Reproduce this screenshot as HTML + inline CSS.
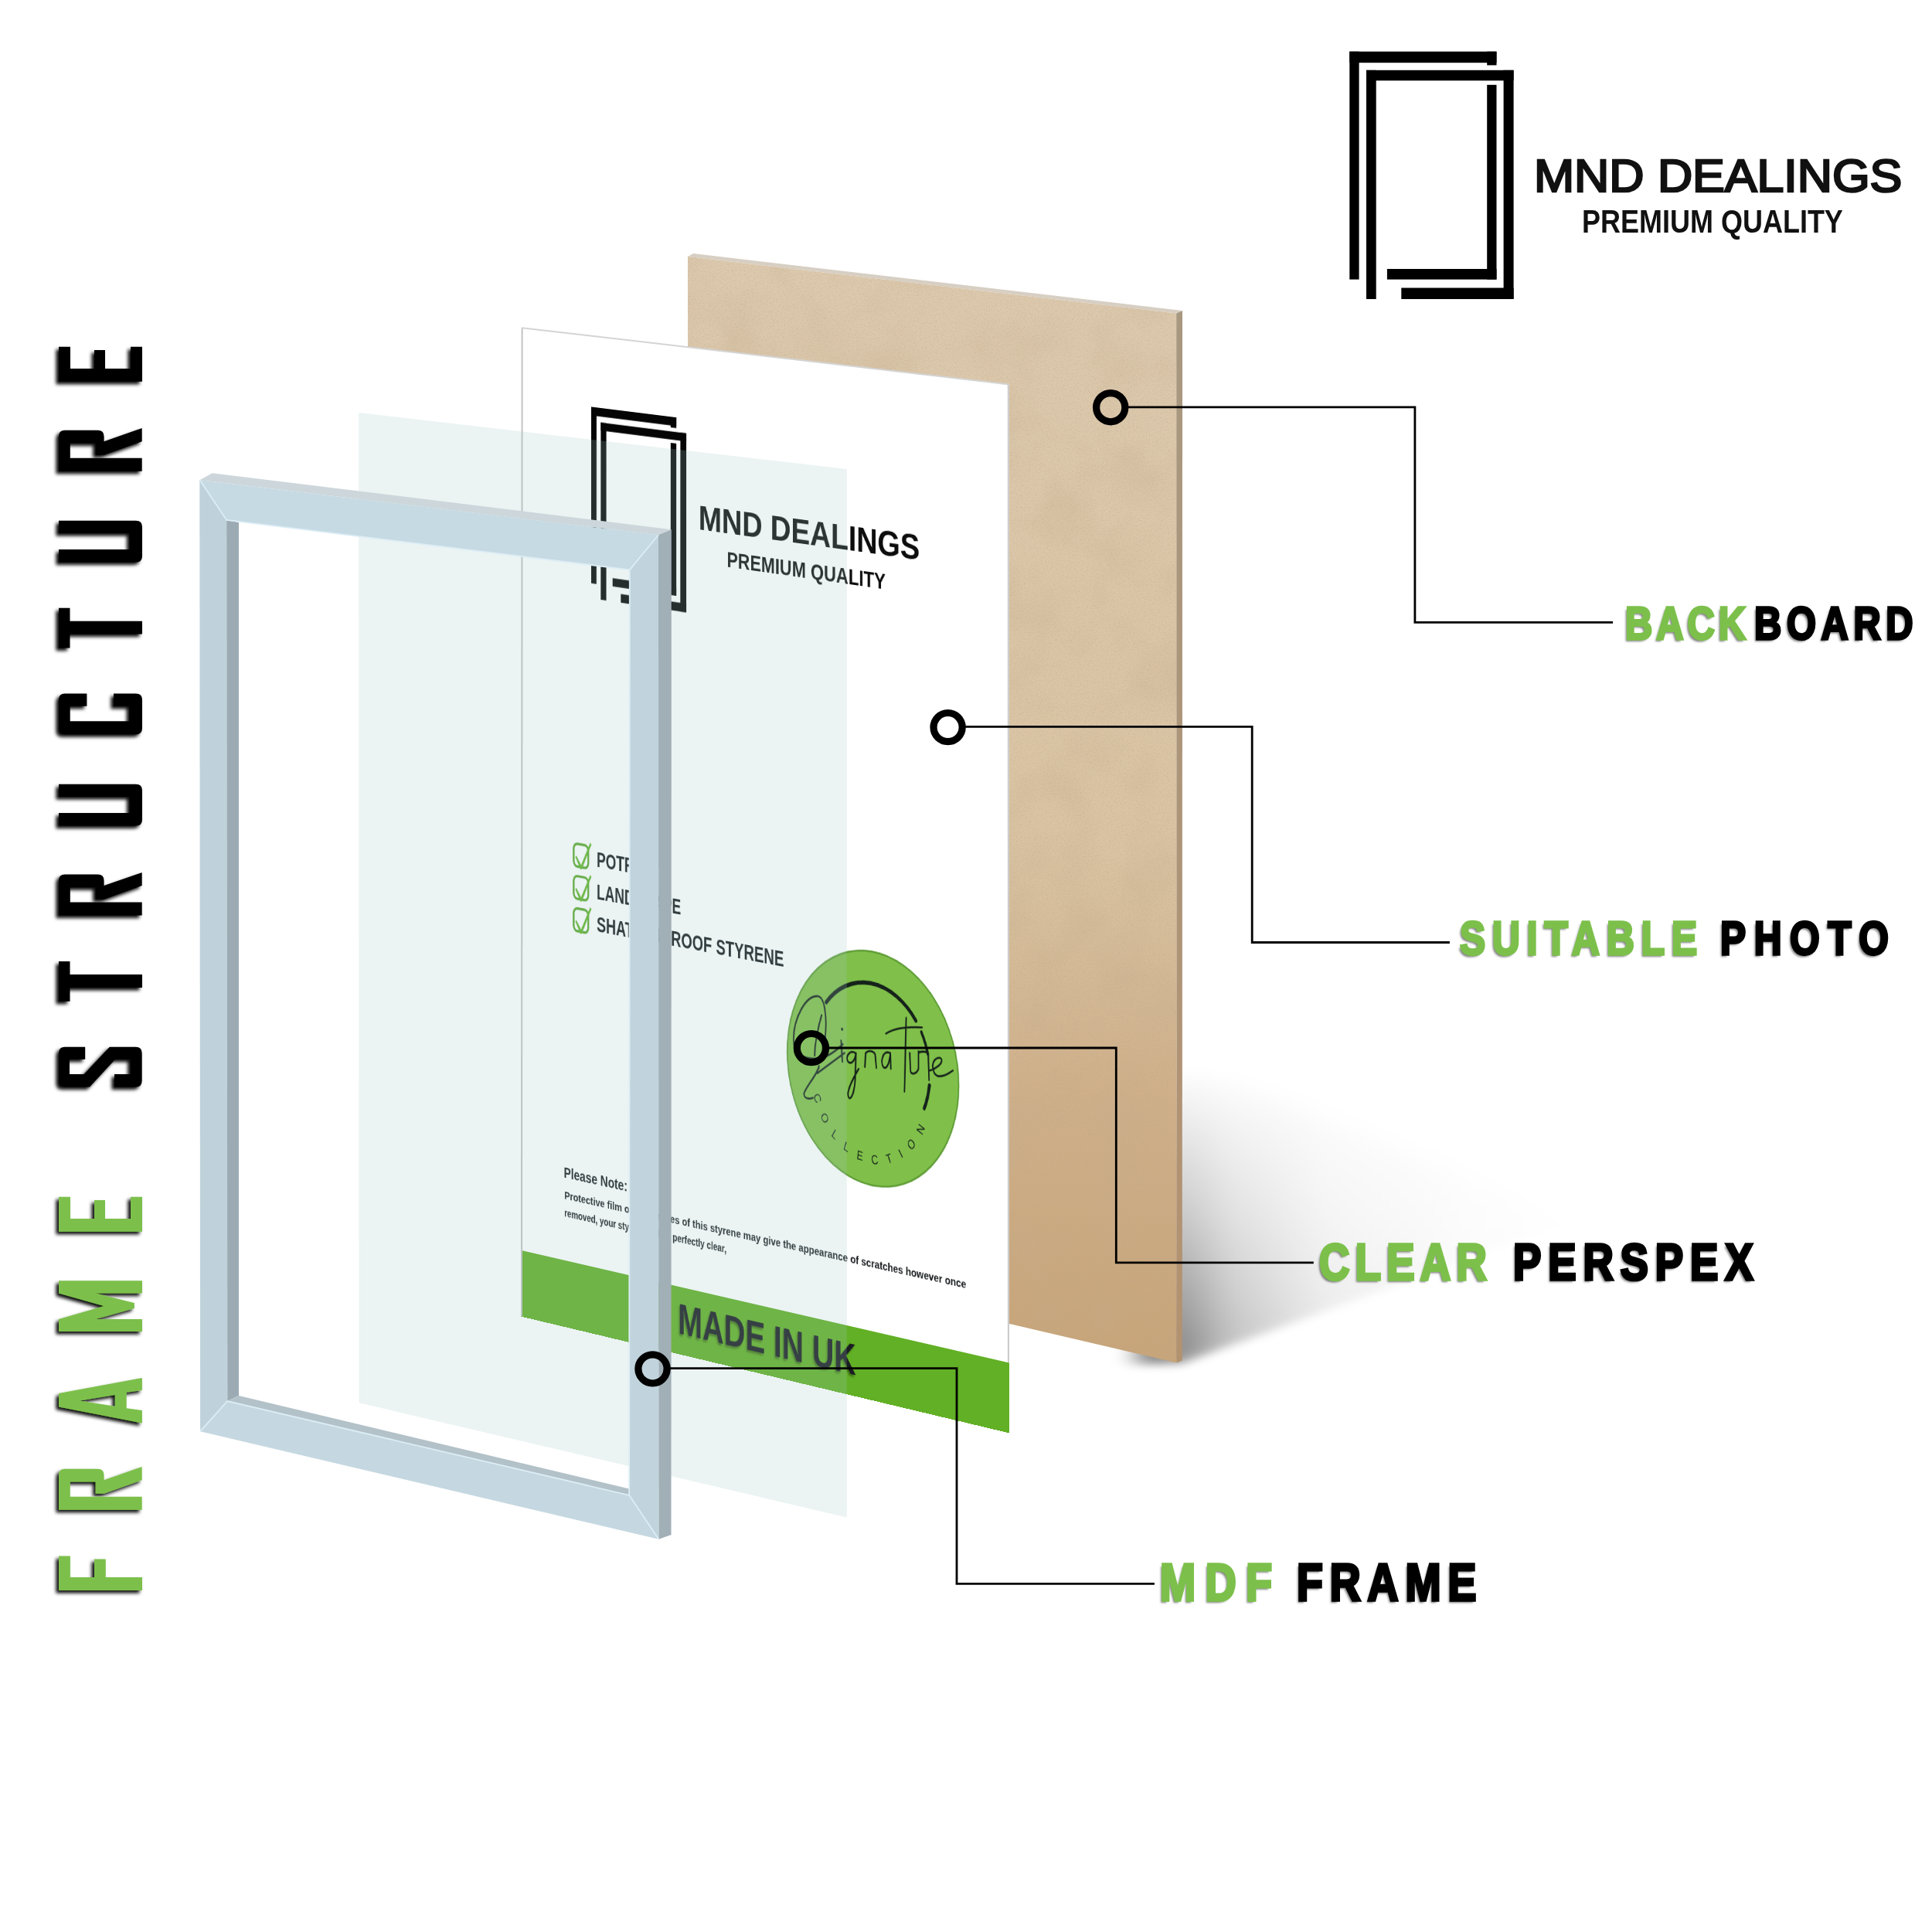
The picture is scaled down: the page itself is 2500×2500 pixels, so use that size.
<!DOCTYPE html>
<html><head><meta charset="utf-8">
<style>
html,body{margin:0;padding:0;background:#fff;width:2500px;height:2500px;overflow:hidden;position:relative}
.abs{position:absolute;left:0;top:0}
.lbl{position:absolute;font-family:"Liberation Sans",sans-serif;font-weight:bold;white-space:nowrap;line-height:1;transform-origin:0 0;text-shadow:-3px 3px 3px rgba(0,0,0,.5)}
.lab{font-size:62px;letter-spacing:11px;transform:scaleX(0.82);-webkit-text-stroke:1.2px currentColor}
.g{color:#7cc04b}
#photo{position:absolute;left:0;top:0;width:900px;height:1360px;transform-origin:0 0;transform:matrix3d(0.617895764,0.0498523311,0,-6.33165774e-05,-0.000986632531,0.939504478,0,-8.08801988e-07,0,0,1,0,675,424,0,1);background:#fff;font-family:"Liberation Sans",sans-serif;overflow:hidden}
#photo .t{position:absolute;white-space:nowrap;line-height:1;color:#101010}
</style></head><body>
<svg class="abs" width="2500" height="2500" viewBox="0 0 2500 2500">
<defs>
<filter id="blur40" x="-50%" y="-50%" width="200%" height="200%"><feGaussianBlur stdDeviation="35"/></filter><filter id="blur8" x="-50%" y="-50%" width="200%" height="200%"><feGaussianBlur stdDeviation="6"/></filter><filter id="blur15" x="-50%" y="-50%" width="200%" height="200%"><feGaussianBlur stdDeviation="15"/></filter><filter id="blur25" x="-50%" y="-50%" width="200%" height="200%"><feGaussianBlur stdDeviation="28"/></filter>
<filter id="tex1" x="0" y="0" width="100%" height="100%"><feTurbulence type="fractalNoise" baseFrequency="0.012" numOctaves="3" seed="7"/><feColorMatrix type="matrix" values="0 0 0 0 0.55  0 0 0 0 0.42  0 0 0 0 0.27  0 0 0 -2.2 1.25"/><feComposite in2="SourceGraphic" operator="in"/></filter>
<filter id="tex2" x="0" y="0" width="100%" height="100%"><feTurbulence type="fractalNoise" baseFrequency="0.6" numOctaves="2" seed="3"/><feColorMatrix type="matrix" values="0 0 0 0 0.5  0 0 0 0 0.38  0 0 0 0 0.25  0 0 0 -3 1.45"/><feComposite in2="SourceGraphic" operator="in"/></filter>
<linearGradient id="side" x1="0" y1="0" x2="0" y2="1"><stop offset="0" stop-color="#a89880"/><stop offset="1" stop-color="#b39270"/></linearGradient>
<linearGradient id="mdf" x1="0" y1="0" x2="0" y2="1">
<stop offset="0" stop-color="#dcc9ae"/><stop offset="0.54" stop-color="#d9c3a2"/><stop offset="0.75" stop-color="#cfb08a"/><stop offset="1" stop-color="#c7a479"/></linearGradient>
<linearGradient id="shg" x1="0" y1="0" x2="1" y2="0">
<stop offset="0" stop-color="#555" stop-opacity="0.9"/><stop offset="1" stop-color="#888" stop-opacity="0"/></linearGradient>
</defs>
<!-- backboard shadow -->
<linearGradient id="shx" gradientUnits="userSpaceOnUse" x1="1530" y1="0" x2="2060" y2="0">
<stop offset="0" stop-color="#000" stop-opacity="0.48"/><stop offset="0.12" stop-color="#000" stop-opacity="0.26"/><stop offset="0.35" stop-color="#000" stop-opacity="0.09"/><stop offset="0.7" stop-color="#000" stop-opacity="0.025"/><stop offset="1" stop-color="#000" stop-opacity="0"/></linearGradient>
<linearGradient id="shy" gradientUnits="userSpaceOnUse" x1="0" y1="1380" x2="0" y2="1765">
<stop offset="0" stop-color="#fff" stop-opacity="0"/><stop offset="0.5" stop-color="#fff" stop-opacity="0.45"/><stop offset="1" stop-color="#fff" stop-opacity="1"/></linearGradient>
<mask id="shm" maskUnits="userSpaceOnUse" x="1400" y="1200" width="900" height="700"><polygon points="1400,1200 2300,1200 2300,1480 1530,1766 1400,1766" fill="url(#shy)" filter="url(#blur8)"/></mask>
<g mask="url(#shm)"><polygon points="1470,1340 2080,1600 1470,1790" fill="url(#shx)" filter="url(#blur15)"/></g>
<!-- backboard -->
<polygon points="897,328 1530,402 1522.2,405.6 890,332" fill="#d7cfc3"/>
<polygon points="890,332 1522.2,405.6 1522.6,1763.6 890,1615.6" fill="url(#mdf)"/>
<polygon points="890,332 1522.2,405.6 1522.6,1763.6 890,1615.6" fill="#fff" filter="url(#tex1)" opacity="0.3"/>
<polygon points="890,332 1522.2,405.6 1522.6,1763.6 890,1615.6" fill="#fff" filter="url(#tex2)" opacity="0.45"/>
<polygon points="1522.2,405.6 1530,402 1529.8,1760.5 1522.6,1763.6" fill="url(#side)"/>
</svg>

<div id="photo"><svg style="position:absolute;left:135.3px;top:96.7px;overflow:visible" width="230" height="300"><g transform="scale(0.853 0.816)" fill="#050505"><rect x="0.0" y="0.0" width="190.2" height="14.5"/><rect x="0.0" y="0.0" width="12.3" height="294.9"/><rect x="177.9" y="0.0" width="12.3" height="17.7"/><rect x="177.9" y="43.1" width="12.3" height="251.8"/><rect x="48.6" y="281.3" width="141.6" height="13.6"/><rect x="21.7" y="24.1" width="190.6" height="13.5"/><rect x="21.7" y="24.1" width="12.7" height="296.2"/><rect x="199.3" y="24.1" width="13.0" height="296.2"/><rect x="67.0" y="305.8" width="145.3" height="14.5"/></g></svg>
<div class="t" style="left:339.3px;top:205.1px;font-size:46.4px;font-weight:bold;color:#0d0d0d;transform:scaleX(1.128);transform-origin:0 0;">MND DEALINGS</div>
<div class="t" style="left:391.9px;top:263.5px;font-size:29.6px;font-weight:bold;color:#0d0d0d;transform:scaleX(1.044);transform-origin:0 0;">PREMIUM QUALITY</div>
<svg style="position:absolute;left:0;top:0;overflow:visible" width="900" height="1360">
    <g fill="none" stroke="#5aa82c" stroke-width="3.4">
      <rect x="101.8" y="696.5" width="28" height="31" rx="7"/>
      <rect x="101.8" y="740.6" width="28" height="31" rx="7"/>
      <rect x="101.8" y="784.8" width="28" height="31" rx="7"/>
    </g>
    <g fill="#62b62a">
      <path d="M107 713 L116 724.5 L133.5 692 L136 694 L117.5 730 L114.5 730.5 L105 715Z"/>
      <path d="M107 757 L116 768.5 L133.5 736 L136 738 L117.5 774 L114.5 774.5 L105 759Z"/>
      <path d="M107 801 L116 812.5 L133.5 780 L136 782 L117.5 818 L114.5 818.5 L105 803Z"/>
    </g>
    <circle cx="658" cy="923" r="154" fill="#80c04a" stroke="#5e9c35" stroke-width="2.5"/>
    <g fill="none" stroke="#15221a" stroke-linecap="round" stroke-linejoin="round">
      <path d="M575 847.5 A106 106 0 0 1 736.2 848.9" stroke-width="5.5"/><path d="M745.9 862.4 A106 106 0 0 1 757.4 889.6" stroke-width="4.5"/>
      <path d="M760.2 929.9 A106 106 0 0 1 751.1 961.8" stroke-width="5"/>
      <path d="M 573.2 893.8 C 576.4 867.7 573.2 840.2 558.8 841.6 C 537.9 843.9 515.4 876.4 515.4 905.6 C 515.4 923.2 529.9 928.1 554.0 925.2 C 573.2 923.0 589.2 912.5 605.2 898.6 M 566.8 865.6 C 560.4 881.7 554.0 905.9 554.0 921.1 M 558.8 943.7 L 608.3 909.7 M 562.0 933.9 C 558.8 946.1 538.0 964.3 534.7 974.2 C 533.9 981.3 544.4 980.9 550.8 977.6 M 602.0 894.4 L 604.4 921.9 M 627.4 907.0 C 617.9 903.7 608.3 915.5 614.7 920.4 C 621.1 924.2 627.4 916.3 629.0 906.7 L 627.4 941.8 C 625.8 965.3 616.3 973.7 614.7 964.6 C 613.1 955.6 627.4 936.0 633.8 927.0 M 644.9 923.0 L 646.5 904.2 C 652.8 898.7 663.9 899.4 663.9 906.3 L 665.5 921.2 M 689.1 898.0 C 678.1 895.0 671.8 912.1 678.1 918.2 C 682.8 920.9 689.1 914.2 690.7 897.8 L 691.5 918.5 M 719.0 847.5 L 715.9 945.0 M 682.8 873.5 C 697.0 864.5 720.6 858.8 747.2 856.2 M 725.3 892.8 L 726.8 916.8 C 728.4 921.2 737.8 918.7 740.9 911.3 L 740.9 888.2 M 740.9 890.5 C 744.1 887.8 753.5 886.4 758.1 888.1 L 759.7 923.5 M 759.7 910.9 C 772.2 906.7 784.6 898.0 781.5 892.7 C 775.3 887.9 759.7 899.3 769.1 912.9 C 775.3 920.1 790.9 912.1 801.7 904.7" stroke-width="2.6"/>
      <circle cx="603.9" cy="879" r="2" fill="#15221a" stroke="none"/>
    </g>
    <defs><path id="arcC" d="M548.6 958.8 A108 108 0 0 0 761.4 958.8"/></defs>
    <text font-family="Liberation Sans" font-size="17" fill="#15221a" letter-spacing="16.5"><textPath href="#arcC" startOffset="15">COLLECTION</textPath></text>
    </svg>
<div class="t" style="left:146.3px;top:697.5px;font-size:30px;font-weight:bold;color:#15191b;transform:scaleX(0.86);transform-origin:0 0;">POTRAIT</div>
<div class="t" style="left:146.3px;top:741.6px;font-size:30px;font-weight:bold;color:#15191b;transform:scaleX(0.86);transform-origin:0 0;">LANDSCAPE</div>
<div class="t" style="left:145.5px;top:785.9px;font-size:30px;font-weight:bold;color:#15191b;transform:scaleX(0.888);transform-origin:0 0;">SHATTERPROOF STYRENE</div>
<div class="t" style="left:82.8px;top:1139.6px;font-size:19.4px;font-weight:bold;color:#15191b;transform:scaleX(1.05);transform-origin:0 0;">Please Note:</div>
<div class="t" style="left:84.1px;top:1171.8px;font-size:15.1px;font-weight:bold;color:#15191b;transform:scaleX(1.066);transform-origin:0 0;">Protective film on both sides of this styrene may give the appearance of scratches however once</div>
<div class="t" style="left:84.1px;top:1196.1px;font-size:15.1px;font-weight:bold;color:#15191b;transform:scaleX(0.955);transform-origin:0 0;">removed, your styrene will be perfectly clear,</div>
<div style="position:absolute;left:0;top:1268.5px;width:900px;height:91.5px;background:#62b025;border-bottom:2px solid #52981f"></div>
<div class="t" style="left:300.9px;top:1283.6px;font-size:57.5px;font-weight:bold;color:#1a1d22;transform:scaleX(0.96);transform-origin:0 0;text-shadow:-2px 3px 3px rgba(0,0,0,.35)">MADE IN UK</div></div>

<svg class="abs" width="2500" height="2500" viewBox="0 0 2500 2500">
<!-- photo edges -->
<g fill="none" stroke-width="2">
<path d="M675.6 424.5L675 1703.6" stroke="#c3c3c3"/>
<path d="M675 424.2L1305.5 497.4" stroke="#d4d4d4"/>
<path d="M1304.8 497.5L1304.9 1763" stroke="#c8c8c8"/>
</g>
<!-- glass -->
<polygon points="464.2,534 1095.8,607 1095.8,1963.5 464.6,1815.2" fill="rgb(162,197,199)" fill-opacity="0.21"/>
<!-- frame -->
<polygon points="258.3,621.2 274.6,612.2 868.8,685.2 852,692.3" fill="#cdd7db"/>
<polygon points="852,692.3 868.8,685.2 868.5,1986 852.3,1991.7" fill="#a1afb7"/>
<polygon points="258.3,621.2 852,692.3 814.8,737.3 293.2,672.9" fill="#c6dae3"/>
<polygon points="852,692.3 852.3,1991.7 814.2,1934.8 814.8,737.3" fill="#c1d4dd"/>
<polygon points="852.3,1991.7 259.1,1852.2 294.3,1813 814.2,1934.8" fill="#c5d8e1"/>
<polygon points="259.1,1852.2 258.3,621.2 293.2,672.9 294.3,1813" fill="#bfd2db"/>
<polygon points="293.2,672.9 309,676 309,1806 294.3,1813" fill="#9cabb3"/>
<polygon points="294.3,1813 309,1806 814.2,1926.4 814.2,1934.8" fill="#b3c1c8"/>
<g stroke="#dcedf5" stroke-width="1.8" fill="none">
<path d="M258.8 621.5L293.2 672.9L814.8 737.3L852 692.3M814.8 737.3L814.2 1934.8L852.3 1991.7M814.2 1934.8L294.3 1813L259.1 1852.2"/>
</g>
<!-- callouts -->
<g fill="none" stroke="#000">
<circle cx="1437.2" cy="527.2" r="18.6" stroke-width="9.2"/>
<circle cx="1226.6" cy="941.1" r="18.6" stroke-width="9.2"/>
<circle cx="1049.9" cy="1356.1" r="18.6" stroke-width="9.2"/>
<circle cx="844.5" cy="1771.4" r="18.6" stroke-width="9.2"/>
<polyline points="1460,526.8 1830.9,526.8 1830.9,805.3 2087.1,805.3" stroke-width="2.8"/>
<polyline points="1249,940.3 1620.2,940.3 1620.2,1219.5 1875.9,1219.5" stroke-width="2.8"/>
<polyline points="1072,1356 1444.3,1356 1444.3,1633.8 1699.8,1633.8" stroke-width="2.8"/>
<polyline points="867,1770.7 1238,1770.7 1238,2049.3 1493.9,2049.3" stroke-width="2.8"/>
</g>
<!-- vertical title -->
<defs><filter id="lsh" x="-20%" y="-20%" width="140%" height="140%"><feDropShadow dx="-3.5" dy="3.5" stdDeviation="2" flood-color="#000" flood-opacity="0.95"/></filter></defs>
<g filter="url(#lsh)">
<path transform="matrix(0 -1 1 0 76 1406.6)" d="M8 0H43.8Q51.8 0 51.8 8V34.2H35.8V14H16.7V32.6L51.8 65.8V99.7Q51.8 107.7 43.8 107.7H8Q0 107.7 0 99.7V72H16.7V92.7H35.8V73L0 40V8Q0 0 8 0Z" fill="#000" fill-rule="evenodd"/>
<path transform="matrix(0 -1 1 0 76 1295.8)" d="M0 0H51.8V14.5H34.7V108H17.9V14.5H0Z" fill="#000" fill-rule="evenodd"/>
<path transform="matrix(0 -1 1 0 76 1184.6)" d="M0 0H45Q53 0 53 8V50.6Q53 58.6 45 58.6H38.5L55.6 107.7H38.5L20.9 58.6V47.7H36.3V14.8H17V107.7H0Z" fill="#000" fill-rule="evenodd"/>
<path transform="matrix(0 -1 1 0 76 1068.5)" d="M0 0H16.6V91.6H37.6V0H53.8V100Q53.8 108 45.8 108H8Q0 108 0 100Z" fill="#000" fill-rule="evenodd"/>
<path transform="matrix(0 -1 1 0 76 950.2)" d="M8 0H44.7Q52.7 0 52.7 8V36.4H36.4V14.7H17V91.3H36.4V71H52.7V100Q52.7 108 44.7 108H8Q0 108 0 100V8Q0 0 8 0Z" fill="#000" fill-rule="evenodd"/>
<path transform="matrix(0 -1 1 0 76 838.5)" d="M0 0H51.8V14.5H34.7V108H17.9V14.5H0Z" fill="#000" fill-rule="evenodd"/>
<path transform="matrix(0 -1 1 0 76 727.5)" d="M0 0H16.6V91.6H37.6V0H53.8V100Q53.8 108 45.8 108H8Q0 108 0 100Z" fill="#000" fill-rule="evenodd"/>
<path transform="matrix(0 -1 1 0 76 609.7)" d="M0 0H45Q53 0 53 8V50.6Q53 58.6 45 58.6H38.5L55.6 107.7H38.5L20.9 58.6V47.7H36.3V14.8H17V107.7H0Z" fill="#000" fill-rule="evenodd"/>
<path transform="matrix(0 -1 1 0 76 493.8)" d="M0 0H45V15H16.8V46H40.8V60H16.8V93H45V108H0Z" fill="#000" fill-rule="evenodd"/>
<path transform="matrix(0 -1 1 0 76 2058.1)" d="M0 0H44.5V14.9H17.1V46H40.6V60.8H17.1V108H0Z" fill="#7cc04b" fill-rule="evenodd"/>
<path transform="matrix(0 -1 1 0 76 1953.7)" d="M0 0H45Q53 0 53 8V50.6Q53 58.6 45 58.6H38.5L55.6 107.7H38.5L20.9 58.6V47.7H36.3V14.8H17V107.7H0Z" fill="#7cc04b" fill-rule="evenodd"/>
<path transform="matrix(0 -1 1 0 76 1841.6)" d="M21.1 0H38.7L58.6 107.9H42.7L39.9 87.7H19.3L16.5 107.9H0ZM29 27.3L36.6 72.8H21.9Z" fill="#7cc04b" fill-rule="evenodd"/>
<path transform="matrix(0 -1 1 0 76 1722.9)" d="M0 0H15.9L32.8 58.6L49.3 0H65.6V108H49.3V47.8L36.8 97.9H29.9L15.9 47.8V108H0Z" fill="#7cc04b" fill-rule="evenodd"/>
<path transform="matrix(0 -1 1 0 76 1593.8)" d="M0 0H45V15H16.8V46H40.8V60H16.8V93H45V108H0Z" fill="#7cc04b" fill-rule="evenodd"/>
</g>
<!-- logo -->
<g transform="translate(1746.3 66.7)" fill="#000"><rect x="0.0" y="0.0" width="190.2" height="14.5"/><rect x="0.0" y="0.0" width="12.3" height="294.9"/><rect x="177.9" y="0.0" width="12.3" height="17.7"/><rect x="177.9" y="43.1" width="12.3" height="251.8"/><rect x="48.6" y="281.3" width="141.6" height="13.6"/><rect x="21.7" y="24.1" width="190.6" height="13.5"/><rect x="21.7" y="24.1" width="12.7" height="296.2"/><rect x="199.3" y="24.1" width="13.0" height="296.2"/><rect x="67.0" y="305.8" width="145.3" height="14.5"/></g>
</svg>

<div class="lbl" style="left:1985px;top:197.5px;font-size:59.6px;color:#111;text-shadow:none;transform:scaleX(1.05);font-weight:normal;-webkit-text-stroke:2.6px #111">MND DEALINGS</div>
<div class="lbl" style="left:2047px;top:266.3px;font-size:42.2px;color:#111;text-shadow:none;transform:scaleX(0.853)">PREMIUM QUALITY</div>

<div class="lbl" style="left:2102.5px;top:777.1px;font-size:59.7px;letter-spacing:6.0px;transform:scaleX(0.82);-webkit-text-stroke:3.28px #7cc04b;color:#7cc04b">BACK</div>
<div class="lbl" style="left:2269.5px;top:777.1px;font-size:59.7px;letter-spacing:8.0px;transform:scaleX(0.82);-webkit-text-stroke:3.28px #000;color:#000">BOARD</div>
<div class="lbl" style="left:1889.0px;top:1183.7px;font-size:60.7px;letter-spacing:10.8px;transform:scaleX(0.82);-webkit-text-stroke:3.34px #7cc04b;color:#7cc04b">SUITABLE</div>
<div class="lbl" style="left:2225.5px;top:1183.7px;font-size:60.7px;letter-spacing:12.8px;transform:scaleX(0.82);-webkit-text-stroke:3.34px #000;color:#000">PHOTO</div>
<div class="lbl" style="left:1706.5px;top:1599.6px;font-size:66.6px;letter-spacing:8.8px;transform:scaleX(0.82);-webkit-text-stroke:3.66px #7cc04b;color:#7cc04b">CLEAR</div>
<div class="lbl" style="left:1958.0px;top:1599.6px;font-size:66.6px;letter-spacing:10.7px;transform:scaleX(0.82);-webkit-text-stroke:3.66px #000;color:#000">PERSPEX</div>
<div class="lbl" style="left:1501.0px;top:2013.7px;font-size:67.6px;letter-spacing:15.3px;transform:scaleX(0.82);-webkit-text-stroke:3.72px #7cc04b;color:#7cc04b">MDF</div>
<div class="lbl" style="left:1678.0px;top:2013.7px;font-size:67.6px;letter-spacing:10.8px;transform:scaleX(0.82);-webkit-text-stroke:3.72px #000;color:#000">FRAME</div>
</body></html>
